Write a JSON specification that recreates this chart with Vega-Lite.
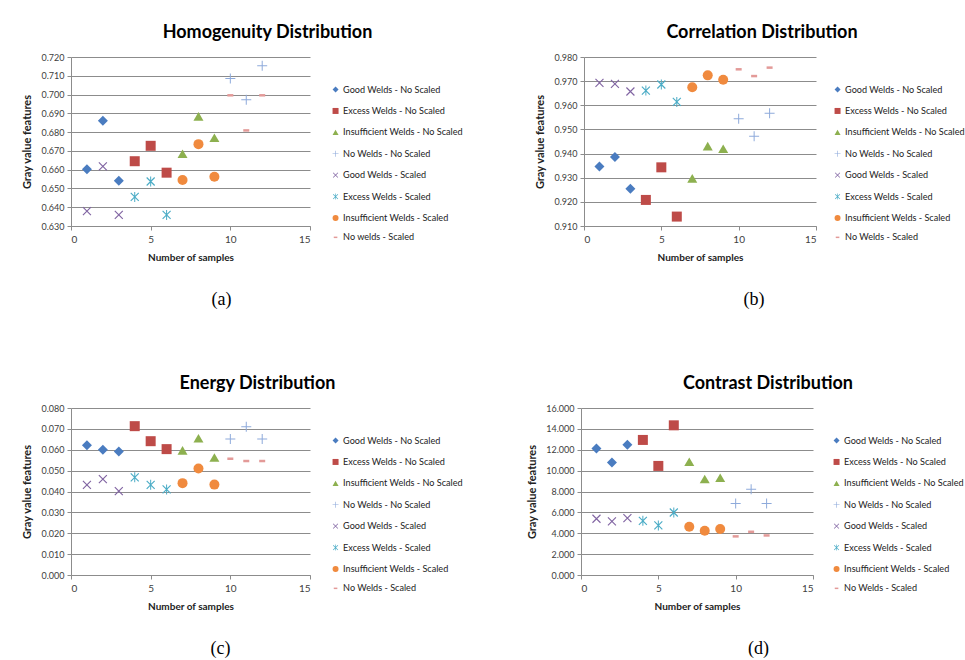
{
  "$schema": "https://vega.github.io/schema/vega-lite/v6.json",
  "background": "white",
  "padding": {"left": 21, "top": 24, "right": 0, "bottom": 0},
  "datasets": {
    "pts": [
      {"feature": "Homogenuity", "series": "Good Welds - No Scaled", "sample": 1, "value": 0.6602},
      {"feature": "Homogenuity", "series": "Good Welds - No Scaled", "sample": 2, "value": 0.6861},
      {"feature": "Homogenuity", "series": "Good Welds - No Scaled", "sample": 3, "value": 0.6541},
      {"feature": "Homogenuity", "series": "Excess Welds - No Scaled", "sample": 4, "value": 0.6645},
      {"feature": "Homogenuity", "series": "Excess Welds - No Scaled", "sample": 5, "value": 0.6727},
      {"feature": "Homogenuity", "series": "Excess Welds - No Scaled", "sample": 6, "value": 0.6584},
      {"feature": "Homogenuity", "series": "Insufficient Welds - No Scaled", "sample": 7, "value": 0.6685},
      {"feature": "Homogenuity", "series": "Insufficient Welds - No Scaled", "sample": 8, "value": 0.6884},
      {"feature": "Homogenuity", "series": "Insufficient Welds - No Scaled", "sample": 9, "value": 0.6770},
      {"feature": "Homogenuity", "series": "No Welds - No Scaled", "sample": 10, "value": 0.7086},
      {"feature": "Homogenuity", "series": "No Welds - No Scaled", "sample": 11, "value": 0.6973},
      {"feature": "Homogenuity", "series": "No Welds - No Scaled", "sample": 12, "value": 0.7154},
      {"feature": "Homogenuity", "series": "Good Welds - Scaled", "sample": 1, "value": 0.6379},
      {"feature": "Homogenuity", "series": "Good Welds - Scaled", "sample": 2, "value": 0.6618},
      {"feature": "Homogenuity", "series": "Good Welds - Scaled", "sample": 3, "value": 0.6359},
      {"feature": "Homogenuity", "series": "Excess Welds - Scaled", "sample": 4, "value": 0.6455},
      {"feature": "Homogenuity", "series": "Excess Welds - Scaled", "sample": 5, "value": 0.6537},
      {"feature": "Homogenuity", "series": "Excess Welds - Scaled", "sample": 6, "value": 0.6359},
      {"feature": "Homogenuity", "series": "Insufficient Welds - Scaled", "sample": 7, "value": 0.6545},
      {"feature": "Homogenuity", "series": "Insufficient Welds - Scaled", "sample": 8, "value": 0.6736},
      {"feature": "Homogenuity", "series": "Insufficient Welds - Scaled", "sample": 9, "value": 0.6562},
      {"feature": "Homogenuity", "series": "No Welds - Scaled", "sample": 10, "value": 0.6996},
      {"feature": "Homogenuity", "series": "No Welds - Scaled", "sample": 11, "value": 0.6809},
      {"feature": "Homogenuity", "series": "No Welds - Scaled", "sample": 12, "value": 0.6996},

      {"feature": "Correlation", "series": "Good Welds - No Scaled", "sample": 1, "value": 0.9346},
      {"feature": "Correlation", "series": "Good Welds - No Scaled", "sample": 2, "value": 0.9386},
      {"feature": "Correlation", "series": "Good Welds - No Scaled", "sample": 3, "value": 0.9254},
      {"feature": "Correlation", "series": "Excess Welds - No Scaled", "sample": 4, "value": 0.9208},
      {"feature": "Correlation", "series": "Excess Welds - No Scaled", "sample": 5, "value": 0.9343},
      {"feature": "Correlation", "series": "Excess Welds - No Scaled", "sample": 6, "value": 0.9139},
      {"feature": "Correlation", "series": "Insufficient Welds - No Scaled", "sample": 7, "value": 0.9297},
      {"feature": "Correlation", "series": "Insufficient Welds - No Scaled", "sample": 8, "value": 0.9431},
      {"feature": "Correlation", "series": "Insufficient Welds - No Scaled", "sample": 9, "value": 0.9420},
      {"feature": "Correlation", "series": "No Welds - No Scaled", "sample": 10, "value": 0.9544},
      {"feature": "Correlation", "series": "No Welds - No Scaled", "sample": 11, "value": 0.9472},
      {"feature": "Correlation", "series": "No Welds - No Scaled", "sample": 12, "value": 0.9567},
      {"feature": "Correlation", "series": "Good Welds - Scaled", "sample": 1, "value": 0.9693},
      {"feature": "Correlation", "series": "Good Welds - Scaled", "sample": 2, "value": 0.9689},
      {"feature": "Correlation", "series": "Good Welds - Scaled", "sample": 3, "value": 0.9657},
      {"feature": "Correlation", "series": "Excess Welds - Scaled", "sample": 4, "value": 0.9661},
      {"feature": "Correlation", "series": "Excess Welds - Scaled", "sample": 5, "value": 0.9686},
      {"feature": "Correlation", "series": "Excess Welds - Scaled", "sample": 6, "value": 0.9614},
      {"feature": "Correlation", "series": "Insufficient Welds - Scaled", "sample": 7, "value": 0.9675},
      {"feature": "Correlation", "series": "Insufficient Welds - Scaled", "sample": 8, "value": 0.9724},
      {"feature": "Correlation", "series": "Insufficient Welds - Scaled", "sample": 9, "value": 0.9706},
      {"feature": "Correlation", "series": "No Welds - Scaled", "sample": 10, "value": 0.9749},
      {"feature": "Correlation", "series": "No Welds - Scaled", "sample": 11, "value": 0.9721},
      {"feature": "Correlation", "series": "No Welds - Scaled", "sample": 12, "value": 0.9756},

      {"feature": "Energy", "series": "Good Welds - No Scaled", "sample": 1, "value": 0.0622},
      {"feature": "Energy", "series": "Good Welds - No Scaled", "sample": 2, "value": 0.0600},
      {"feature": "Energy", "series": "Good Welds - No Scaled", "sample": 3, "value": 0.0592},
      {"feature": "Energy", "series": "Excess Welds - No Scaled", "sample": 4, "value": 0.0713},
      {"feature": "Energy", "series": "Excess Welds - No Scaled", "sample": 5, "value": 0.0641},
      {"feature": "Energy", "series": "Excess Welds - No Scaled", "sample": 6, "value": 0.0603},
      {"feature": "Energy", "series": "Insufficient Welds - No Scaled", "sample": 7, "value": 0.0597},
      {"feature": "Energy", "series": "Insufficient Welds - No Scaled", "sample": 8, "value": 0.0655},
      {"feature": "Energy", "series": "Insufficient Welds - No Scaled", "sample": 9, "value": 0.0563},
      {"feature": "Energy", "series": "No Welds - No Scaled", "sample": 10, "value": 0.0652},
      {"feature": "Energy", "series": "No Welds - No Scaled", "sample": 11, "value": 0.0710},
      {"feature": "Energy", "series": "No Welds - No Scaled", "sample": 12, "value": 0.0652},
      {"feature": "Energy", "series": "Good Welds - Scaled", "sample": 1, "value": 0.0432},
      {"feature": "Energy", "series": "Good Welds - Scaled", "sample": 2, "value": 0.0459},
      {"feature": "Energy", "series": "Good Welds - Scaled", "sample": 3, "value": 0.0402},
      {"feature": "Energy", "series": "Excess Welds - Scaled", "sample": 4, "value": 0.0468},
      {"feature": "Energy", "series": "Excess Welds - Scaled", "sample": 5, "value": 0.0432},
      {"feature": "Energy", "series": "Excess Welds - Scaled", "sample": 6, "value": 0.0410},
      {"feature": "Energy", "series": "Insufficient Welds - Scaled", "sample": 7, "value": 0.0440},
      {"feature": "Energy", "series": "Insufficient Welds - Scaled", "sample": 8, "value": 0.0510},
      {"feature": "Energy", "series": "Insufficient Welds - Scaled", "sample": 9, "value": 0.0433},
      {"feature": "Energy", "series": "No Welds - Scaled", "sample": 10, "value": 0.0557},
      {"feature": "Energy", "series": "No Welds - Scaled", "sample": 11, "value": 0.0546},
      {"feature": "Energy", "series": "No Welds - Scaled", "sample": 12, "value": 0.0546},

      {"feature": "Contrast", "series": "Good Welds - No Scaled", "sample": 1, "value": 12.11},
      {"feature": "Contrast", "series": "Good Welds - No Scaled", "sample": 2, "value": 10.77},
      {"feature": "Contrast", "series": "Good Welds - No Scaled", "sample": 3, "value": 12.49},
      {"feature": "Contrast", "series": "Excess Welds - No Scaled", "sample": 4, "value": 12.94},
      {"feature": "Contrast", "series": "Excess Welds - No Scaled", "sample": 5, "value": 10.45},
      {"feature": "Contrast", "series": "Excess Welds - No Scaled", "sample": 6, "value": 14.34},
      {"feature": "Contrast", "series": "Insufficient Welds - No Scaled", "sample": 7, "value": 10.85},
      {"feature": "Contrast", "series": "Insufficient Welds - No Scaled", "sample": 8, "value": 9.20},
      {"feature": "Contrast", "series": "Insufficient Welds - No Scaled", "sample": 9, "value": 9.32},
      {"feature": "Contrast", "series": "No Welds - No Scaled", "sample": 10, "value": 6.85},
      {"feature": "Contrast", "series": "No Welds - No Scaled", "sample": 11, "value": 8.22},
      {"feature": "Contrast", "series": "No Welds - No Scaled", "sample": 12, "value": 6.85},
      {"feature": "Contrast", "series": "Good Welds - Scaled", "sample": 1, "value": 5.39},
      {"feature": "Contrast", "series": "Good Welds - Scaled", "sample": 2, "value": 5.13},
      {"feature": "Contrast", "series": "Good Welds - Scaled", "sample": 3, "value": 5.45},
      {"feature": "Contrast", "series": "Excess Welds - Scaled", "sample": 4, "value": 5.19},
      {"feature": "Contrast", "series": "Excess Welds - Scaled", "sample": 5, "value": 4.75},
      {"feature": "Contrast", "series": "Excess Welds - Scaled", "sample": 6, "value": 5.99},
      {"feature": "Contrast", "series": "Insufficient Welds - Scaled", "sample": 7, "value": 4.62},
      {"feature": "Contrast", "series": "Insufficient Welds - Scaled", "sample": 8, "value": 4.24},
      {"feature": "Contrast", "series": "Insufficient Welds - Scaled", "sample": 9, "value": 4.40},
      {"feature": "Contrast", "series": "No Welds - Scaled", "sample": 10, "value": 3.70},
      {"feature": "Contrast", "series": "No Welds - Scaled", "sample": 11, "value": 4.14},
      {"feature": "Contrast", "series": "No Welds - Scaled", "sample": 12, "value": 3.79}
    ]
  },
  "config": {
    "font": "Lato",
    "view": {"stroke": null},
    "axis": {
      "labelFont": "Lato", "labelFontSize": 9, "labelColor": "#404040",
      "titleFont": "Lato", "titleFontSize": 10, "titleFontWeight": "bold", "titleColor": "#222222",
      "domainColor": "#8c8c8c", "tickColor": "#8c8c8c", "gridColor": "#8c8c8c", "tickSize": 4
    },
    "axisX": {"grid": false, "titlePadding": 8, "labelPadding": 4, "labelFontSize": 10},
    "axisY": {"grid": true, "titlePadding": 8, "labelPadding": 3, "titleFontSize": 11},
    "legend": {
      "orient": "none", "padding": 0, "title": null,
      "symbolSize": 36, "labelFont": "Lato", "labelFontSize": 9.1, "labelColor": "#222222",
      "rowPadding": 8.4, "labelOffset": 3, "symbolOpacity": 1
    },
    "title": {"font": "Lato", "fontSize": 18, "fontWeight": "bold", "color": "#000000", "anchor": "middle", "offset": 11},
    "point": {"filled": true, "size": 100, "opacity": 1}
  },
  "resolve": {"scale": {"x": "independent", "y": "independent", "color": "independent", "shape": "independent"}, "legend": {"color": "independent", "shape": "independent"}},
  "spacing": 66,
  "vconcat": [
    {
      "spacing": 71,
      "resolve": {"scale": {"x": "independent", "y": "independent", "color": "independent", "shape": "independent"}, "legend": {"color": "independent", "shape": "independent"}},
      "hconcat": [
        {
          "title": {"text": "(a)", "orient": "bottom", "font": "Liberation Serif", "fontSize": 18, "fontWeight": "normal", "offset": 29, "dx": -21},
          "resolve": {"scale": {"x": "independent", "y": "independent", "color": "independent", "shape": "independent"}, "legend": {"color": "independent", "shape": "independent"}},
          "vconcat": [
            {
              "title": {"text": "Homogenuity Distribution", "dx": 77},
              "width": 239, "height": 169,
              "data": {"name": "pts"},
              "transform": [{"filter": "datum.feature == 'Homogenuity'"}],
              "mark": {"type": "point"},
              "encoding": {
                "x": {"field": "sample", "type": "quantitative", "scale": {"domain": [0, 15], "nice": false}, "axis": {"values": [0, 5, 10, 15], "title": "Number of samples"}},
                "y": {"field": "value", "type": "quantitative", "scale": {"domain": [0.63, 0.72], "nice": false, "zero": false}, "axis": {"values": [0.63, 0.64, 0.65, 0.66, 0.67, 0.68, 0.69, 0.7, 0.71, 0.72], "format": ".3f", "title": "Gray value features"}},
                "color": {"field": "series", "type": "nominal",
                  "scale": {"domain": ["Good Welds - No Scaled", "Excess Welds - No Scaled", "Insufficient Welds - No Scaled", "No Welds - No Scaled", "Good Welds - Scaled", "Excess Welds - Scaled", "Insufficient Welds - Scaled", "No Welds - Scaled"],
                    "range": ["#4a7cc0", "#be4b48", "#8db04f", "#8eaadb", "#8064a2", "#4bacc6", "#f08a3e", "#e39a98"]},
                  "legend": {"legendX": 260, "legendY": 28, "labelExpr": "datum.label == 'No Welds - Scaled' ? 'No welds - Scaled' : datum.label"}},
                "shape": {"field": "series", "type": "nominal",
                  "scale": {"domain": ["Good Welds - No Scaled", "Excess Welds - No Scaled", "Insufficient Welds - No Scaled", "No Welds - No Scaled", "Good Welds - Scaled", "Excess Welds - Scaled", "Insufficient Welds - Scaled", "No Welds - Scaled"],
                    "range": ["diamond", "square", "triangle-up", "M-1,-0.1L1,-0.1L1,0.1L-1,0.1ZM-0.1,-1L0.1,-1L0.1,1L-0.1,1Z", "M-0.72,-0.88L0.88,0.72L0.72,0.88L-0.88,-0.72ZM-0.72,0.88L-0.88,0.72L0.72,-0.88L0.88,-0.72Z", "M-0.72,-0.88L0.88,0.72L0.72,0.88L-0.88,-0.72ZM-0.72,0.88L-0.88,0.72L0.72,-0.88L0.88,-0.72ZM-0.1,-1L0.1,-1L0.1,1L-0.1,1Z", "circle", "M-0.6,-0.25L0.6,-0.25L0.6,0.25L-0.6,0.25Z"]},
                  "legend": {"legendX": 260, "legendY": 28, "labelExpr": "datum.label == 'No Welds - Scaled' ? 'No welds - Scaled' : datum.label"}}
              }
            }
          ]
        },
        {
          "title": {"text": "(b)", "orient": "bottom", "font": "Liberation Serif", "fontSize": 18, "fontWeight": "normal", "offset": 29, "dx": 4},
          "resolve": {"scale": {"x": "independent", "y": "independent", "color": "independent", "shape": "independent"}, "legend": {"color": "independent", "shape": "independent"}},
          "vconcat": [
            {
              "title": {"text": "Correlation Distribution", "dx": 62},
              "width": 232, "height": 169,
              "data": {"name": "pts"},
              "transform": [{"filter": "datum.feature == 'Correlation'"}],
              "mark": {"type": "point"},
              "encoding": {
                "x": {"field": "sample", "type": "quantitative", "scale": {"domain": [0, 15], "nice": false}, "axis": {"values": [0, 5, 10, 15], "title": "Number of samples"}},
                "y": {"field": "value", "type": "quantitative", "scale": {"domain": [0.91, 0.98], "nice": false, "zero": false}, "axis": {"values": [0.91, 0.92, 0.93, 0.94, 0.95, 0.96, 0.97, 0.98], "format": ".3f", "title": "Gray value features"}},
                "color": {"field": "series", "type": "nominal",
                  "scale": {"domain": ["Good Welds - No Scaled", "Excess Welds - No Scaled", "Insufficient Welds - No Scaled", "No Welds - No Scaled", "Good Welds - Scaled", "Excess Welds - Scaled", "Insufficient Welds - Scaled", "No Welds - Scaled"],
                    "range": ["#4a7cc0", "#be4b48", "#8db04f", "#8eaadb", "#8064a2", "#4bacc6", "#f08a3e", "#e39a98"]},
                  "legend": {"legendX": 249, "legendY": 28}},
                "shape": {"field": "series", "type": "nominal",
                  "scale": {"domain": ["Good Welds - No Scaled", "Excess Welds - No Scaled", "Insufficient Welds - No Scaled", "No Welds - No Scaled", "Good Welds - Scaled", "Excess Welds - Scaled", "Insufficient Welds - Scaled", "No Welds - Scaled"],
                    "range": ["diamond", "square", "triangle-up", "M-1,-0.1L1,-0.1L1,0.1L-1,0.1ZM-0.1,-1L0.1,-1L0.1,1L-0.1,1Z", "M-0.72,-0.88L0.88,0.72L0.72,0.88L-0.88,-0.72ZM-0.72,0.88L-0.88,0.72L0.72,-0.88L0.88,-0.72Z", "M-0.72,-0.88L0.88,0.72L0.72,0.88L-0.88,-0.72ZM-0.72,0.88L-0.88,0.72L0.72,-0.88L0.88,-0.72ZM-0.1,-1L0.1,-1L0.1,1L-0.1,1Z", "circle", "M-0.6,-0.25L0.6,-0.25L0.6,0.25L-0.6,0.25Z"]},
                  "legend": {"legendX": 249, "legendY": 28}}
              }
            }
          ]
        }
      ]
    },
    {
      "spacing": 63,
      "resolve": {"scale": {"x": "independent", "y": "independent", "color": "independent", "shape": "independent"}, "legend": {"color": "independent", "shape": "independent"}},
      "hconcat": [
        {
          "title": {"text": "(c)", "orient": "bottom", "font": "Liberation Serif", "fontSize": 18, "fontWeight": "normal", "offset": 29, "dx": -22},
          "resolve": {"scale": {"x": "independent", "y": "independent", "color": "independent", "shape": "independent"}, "legend": {"color": "independent", "shape": "independent"}},
          "vconcat": [
            {
              "title": {"text": "Energy Distribution", "dx": 67},
              "width": 239, "height": 167,
              "data": {"name": "pts"},
              "transform": [{"filter": "datum.feature == 'Energy'"}],
              "mark": {"type": "point"},
              "encoding": {
                "x": {"field": "sample", "type": "quantitative", "scale": {"domain": [0, 15], "nice": false}, "axis": {"values": [0, 5, 10, 15], "title": "Number of samples"}},
                "y": {"field": "value", "type": "quantitative", "scale": {"domain": [0, 0.08], "nice": false}, "axis": {"values": [0, 0.01, 0.02, 0.03, 0.04, 0.05, 0.06, 0.07, 0.08], "format": ".3f", "title": "Gray value features"}},
                "color": {"field": "series", "type": "nominal",
                  "scale": {"domain": ["Good Welds - No Scaled", "Excess Welds - No Scaled", "Insufficient Welds - No Scaled", "No Welds - No Scaled", "Good Welds - Scaled", "Excess Welds - Scaled", "Insufficient Welds - Scaled", "No Welds - Scaled"],
                    "range": ["#4a7cc0", "#be4b48", "#8db04f", "#8eaadb", "#8064a2", "#4bacc6", "#f08a3e", "#e39a98"]},
                  "legend": {"legendX": 260, "legendY": 28}},
                "shape": {"field": "series", "type": "nominal",
                  "scale": {"domain": ["Good Welds - No Scaled", "Excess Welds - No Scaled", "Insufficient Welds - No Scaled", "No Welds - No Scaled", "Good Welds - Scaled", "Excess Welds - Scaled", "Insufficient Welds - Scaled", "No Welds - Scaled"],
                    "range": ["diamond", "square", "triangle-up", "M-1,-0.1L1,-0.1L1,0.1L-1,0.1ZM-0.1,-1L0.1,-1L0.1,1L-0.1,1Z", "M-0.72,-0.88L0.88,0.72L0.72,0.88L-0.88,-0.72ZM-0.72,0.88L-0.88,0.72L0.72,-0.88L0.88,-0.72Z", "M-0.72,-0.88L0.88,0.72L0.72,0.88L-0.88,-0.72ZM-0.72,0.88L-0.88,0.72L0.72,-0.88L0.88,-0.72ZM-0.1,-1L0.1,-1L0.1,1L-0.1,1Z", "circle", "M-0.6,-0.25L0.6,-0.25L0.6,0.25L-0.6,0.25Z"]},
                  "legend": {"legendX": 260, "legendY": 28}}
              }
            }
          ]
        },
        {
          "title": {"text": "(d)", "orient": "bottom", "font": "Liberation Serif", "fontSize": 18, "fontWeight": "normal", "offset": 29, "dx": 13},
          "resolve": {"scale": {"x": "independent", "y": "independent", "color": "independent", "shape": "independent"}, "legend": {"color": "independent", "shape": "independent"}},
          "vconcat": [
            {
              "title": {"text": "Contrast Distribution", "dx": 71},
              "width": 232, "height": 167,
              "data": {"name": "pts"},
              "transform": [{"filter": "datum.feature == 'Contrast'"}],
              "mark": {"type": "point"},
              "encoding": {
                "x": {"field": "sample", "type": "quantitative", "scale": {"domain": [0, 15], "nice": false}, "axis": {"values": [0, 5, 10, 15], "title": "Number of samples"}},
                "y": {"field": "value", "type": "quantitative", "scale": {"domain": [0, 16], "nice": false}, "axis": {"values": [0, 2, 4, 6, 8, 10, 12, 14, 16], "format": ".3f", "title": "Gray value features"}},
                "color": {"field": "series", "type": "nominal",
                  "scale": {"domain": ["Good Welds - No Scaled", "Excess Welds - No Scaled", "Insufficient Welds - No Scaled", "No Welds - No Scaled", "Good Welds - Scaled", "Excess Welds - Scaled", "Insufficient Welds - Scaled", "No Welds - Scaled"],
                    "range": ["#4a7cc0", "#be4b48", "#8db04f", "#8eaadb", "#8064a2", "#4bacc6", "#f08a3e", "#e39a98"]},
                  "legend": {"legendX": 251, "legendY": 28}},
                "shape": {"field": "series", "type": "nominal",
                  "scale": {"domain": ["Good Welds - No Scaled", "Excess Welds - No Scaled", "Insufficient Welds - No Scaled", "No Welds - No Scaled", "Good Welds - Scaled", "Excess Welds - Scaled", "Insufficient Welds - Scaled", "No Welds - Scaled"],
                    "range": ["diamond", "square", "triangle-up", "M-1,-0.1L1,-0.1L1,0.1L-1,0.1ZM-0.1,-1L0.1,-1L0.1,1L-0.1,1Z", "M-0.72,-0.88L0.88,0.72L0.72,0.88L-0.88,-0.72ZM-0.72,0.88L-0.88,0.72L0.72,-0.88L0.88,-0.72Z", "M-0.72,-0.88L0.88,0.72L0.72,0.88L-0.88,-0.72ZM-0.72,0.88L-0.88,0.72L0.72,-0.88L0.88,-0.72ZM-0.1,-1L0.1,-1L0.1,1L-0.1,1Z", "circle", "M-0.6,-0.25L0.6,-0.25L0.6,0.25L-0.6,0.25Z"]},
                  "legend": {"legendX": 251, "legendY": 28}}
              }
            }
          ]
        }
      ]
    }
  ]
}
